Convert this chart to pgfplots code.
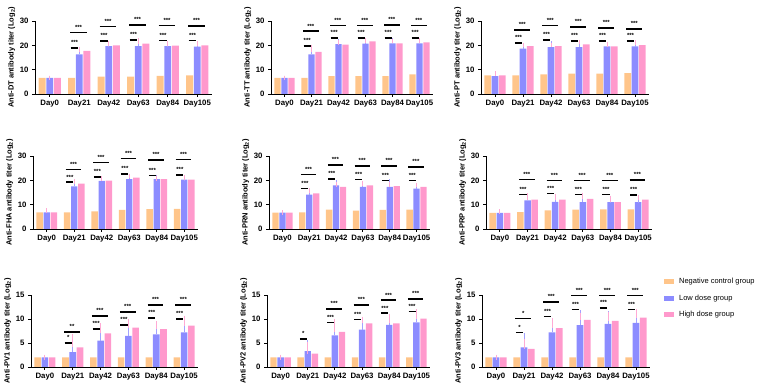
\documentclass[border=0pt]{standalone}
\usepackage{fontspec}
\setmainfont{Liberation Sans}
\usepackage{pgfplots}
\pgfplotsset{compat=1.18}
\usepackage{pgfplotstable}

\definecolor{cneg}{HTML}{FFC58A}
\definecolor{clow}{HTML}{8C8CFF}
\definecolor{chigh}{HTML}{FF99CC}
\definecolor{eneg}{HTML}{FFCF9E}
\definecolor{elow}{HTML}{A2A2FF}
\definecolor{ehigh}{HTML}{FFAAD4}

\newcommand{\tickfont}{\bfseries\fontsize{7.8}{9}\selectfont}
\newcommand{\labfont}{\bfseries\fontsize{7.5}{8}\selectfont}
\newcommand{\starfont}{\bfseries\fontsize{6}{6}\selectfont}

% columns: day index, negative control, low dose, high dose (mean and upper SD)
\pgfplotstableread{
x n   ne  l    le  h    he
0 6.6 0.0 6.6  0.0 6.6  0.0
1 6.6 0.0 16.3 1.2 17.7 0.7
2 7.1 0.8 19.7 0.8 20.0 0.7
3 7.1 0.6 19.7 1.1 20.7 1.2
4 7.4 1.2 19.7 0.8 19.9 0.9
5 7.7 1.2 19.5 1.0 20.0 0.8
}\dataDT
\pgfplotstableread{
x n   ne  l    le  h    he
0 6.6 0.0 6.6  0.0 6.6  0.0
1 6.6 0.0 16.3 2.1 17.3 1.9
2 7.3 0.8 20.5 1.1 20.3 0.8
3 7.3 0.8 20.7 0.8 21.6 0.4
4 7.3 1.1 20.8 1.1 20.8 1.0
5 8.1 1.2 20.8 1.1 21.2 0.7
}\dataTT
\pgfplotstableread{
x n   ne  l    le  h    he
0 7.7 0.7 7.3  0.9 7.7  0.8
1 7.7 0.9 18.6 1.1 19.7 0.4
2 8.1 0.8 19.3 1.5 19.7 0.4
3 8.4 0.6 19.3 0.8 20.4 1.0
4 8.4 0.5 19.6 0.9 19.6 0.8
5 8.6 0.7 19.6 0.9 20.1 0.9
}\dataPT
\pgfplotstableread{
x n   ne  l    le  h    he
0 6.8 0.8 6.8  0.6 6.8  0.7
1 6.8 0.6 17.5 1.1 18.6 0.9
2 7.2 0.7 19.8 0.8 19.9 0.8
3 7.9 1.0 20.5 0.9 21.1 0.7
4 8.2 0.9 20.5 0.8 20.5 0.4
5 8.3 0.7 20.3 0.6 20.3 0.8
}\dataFHA
\pgfplotstableread{
x n   ne  l    le  h    he
0 6.7 0.0 6.7  0.0 6.7  0.0
1 6.8 0.6 14.1 1.6 14.6 1.1
2 8.0 1.0 17.9 1.2 17.3 1.1
3 7.6 1.0 17.3 1.5 17.9 0.9
4 7.9 0.8 17.3 2.1 17.6 0.7
5 8.0 0.7 16.6 1.4 17.3 0.8
}\dataPRN
\pgfplotstableread{
x n   ne  l    le  h    he
0 6.6 0.6 6.6  0.6 6.6  0.6
1 6.9 0.7 11.8 1.3 12.1 1.7
2 7.7 0.8 11.1 1.0 12.1 1.4
3 8.0 0.5 11.0 1.2 12.4 1.6
4 8.1 0.7 11.0 0.8 11.0 1.7
5 8.1 0.7 11.0 0.7 12.1 0.7
}\dataPRP
\pgfplotstableread{
x n   ne  l   le  h    he
0 2.0 0.0 2.0 0.0 2.0  0.0
1 2.0 0.0 3.1 1.3 4.1  2.3
2 2.0 0.0 5.5 1.4 7.0  1.7
3 2.0 0.0 6.5 1.6 8.2  1.4
4 2.0 0.0 6.8 1.9 7.9  1.1
5 2.0 0.0 7.2 1.4 8.6  1.6
}\dataPVa
\pgfplotstableread{
x n   ne  l   le  h    he
0 2.0 0.0 2.0 0.0 2.0  0.0
1 2.0 0.0 3.3 1.8 2.8  1.9
2 2.0 0.0 6.6 1.8 7.3  2.2
3 2.0 0.0 7.8 1.2 9.1  0.9
4 2.0 0.0 8.8 1.8 9.1  1.4
5 2.0 0.0 9.3 1.5 10.1 1.4
}\dataPVb
\pgfplotstableread{
x n   ne  l   le  h    he
0 2.0 0.0 2.0 0.0 2.0  0.0
1 2.0 0.0 4.1 2.4 3.8  1.6
2 2.0 0.0 7.2 2.5 8.1  1.7
3 2.0 0.0 8.7 2.7 9.8  1.0
4 2.0 0.0 9.0 2.1 9.6  1.3
5 2.0 0.0 9.2 1.7 10.3 1.3
}\dataPVc

\pgfplotsset{
  panel/.style={
    scale only axis, anchor=south west, clip=false,
    xmin=-0.5, xmax=5.5, ymin=0,
    axis lines=left, axis line style={-, line width=0.9pt, black},
    xtick={0,...,5}, xticklabels={Day0,Day21,Day42,Day63,Day84,Day105},
    tick align=outside, major tick length=3pt,
    tick style={line width=0.9pt, black},
    ticklabel style={font=\tickfont},
    /pgf/number format/assume math mode=true,
    ylabel style={font=\labfont, inner sep=1pt},
  },
  top/.style={ymax=30, ytick={0,10,20,30}},
  low/.style={ymax=15, ytick={0,5,10,15}},
  grp/.style n args={3}{
    ybar, bar width=0.235, bar shift=#1, fill=#2, draw=none,
    /pgfplots/error bars/y dir=plus,
    /pgfplots/error bars/y explicit,
    /pgfplots/error bars/error bar style={#3, line width=0.9pt},
    /pgfplots/error bars/error mark options={#3, line width=0.9pt, mark size=2.4pt},
  },
  sigline/.style={black, line width=1.6pt, forget plot},
}
\tikzset{star/.style={font=\starfont, inner sep=0pt, anchor=base, yshift=3.2pt}}

% three groups of bars for one table
\newcommand{\bars}[1]{%
  \addplot[grp={-0.26}{cneg}{eneg},
    legend image code/.code={\fill[cneg] (0pt,-2.5pt) rectangle (10pt,2.5pt);}]
    table[x=x, y=n, y error=ne]{#1};
  \addplot[grp={0}{clow}{elow},
    legend image code/.code={\fill[clow] (0pt,-2.5pt) rectangle (10pt,2.5pt);}]
    table[x=x, y=l, y error=le]{#1};
  \addplot[grp={0.26}{chigh}{ehigh},
    legend image code/.code={\fill[chigh] (0pt,-2.5pt) rectangle (10pt,2.5pt);}]
    table[x=x, y=h, y error=he]{#1};
}
% control vs low dose bracket
\newcommand{\sigS}[3]{%
  \pgfmathsetmacro\sa{#1-0.29}\pgfmathsetmacro\sb{#1-0.03}%
  \edef\tmp{\noexpand\addplot[sigline] coordinates {(\sa,#2) (\sb,#2)} node[pos=0.5, star] {#3};}%
  \tmp}
% control vs high dose bracket
\newcommand{\sigL}[3]{%
  \pgfmathsetmacro\sa{#1-0.31}\pgfmathsetmacro\sb{#1+0.26}%
  \edef\tmp{\noexpand\addplot[sigline] coordinates {(\sa,#2) (\sb,#2)} node[pos=0.5, star] {#3};}%
  \tmp}

\begin{document}
\begin{tikzpicture}[x=1pt, y=1pt]
\path[use as bounding box] (0,0) rectangle (757,390);

% ---- row 1 ----
\begin{axis}[panel, top, at={(35pt,296pt)}, width=177pt, height=73pt,
  ylabel={Anti-DT antibody titer (Log\textsubscript{2})}]
\bars{\dataDT}
\sigS{1}{19.0}{***}\sigS{2}{21.8}{***}\sigS{3}{22.3}{***}\sigS{4}{22.0}{***}\sigS{5}{22.0}{***}
\sigL{1}{25.2}{***}\sigL{2}{27.8}{***}\sigL{3}{28.4}{***}\sigL{4}{28.2}{***}\sigL{5}{27.9}{***}
\end{axis}

\begin{axis}[panel, top, at={(271pt,296pt)}, width=162pt, height=73pt,
  ylabel={Anti-TT antibody titer (Log\textsubscript{2})}]
\bars{\dataTT}
\sigS{1}{19.7}{***}\sigS{2}{23.0}{***}\sigS{3}{23.0}{***}\sigS{4}{23.0}{***}\sigS{5}{23.0}{***}
\sigL{1}{25.8}{***}\sigL{2}{28.2}{***}\sigL{3}{28.1}{***}\sigL{4}{28.4}{***}\sigL{5}{28.1}{***}
\end{axis}

\begin{axis}[panel, top, at={(481pt,296pt)}, width=168pt, height=73pt,
  ylabel={Anti-PT antibody titer (Log\textsubscript{2})}]
\bars{\dataPT}
\sigS{1}{21.0}{***}\sigS{2}{22.3}{***}\sigS{3}{21.8}{***}\sigS{4}{21.8}{***}\sigS{5}{21.8}{***}
\sigL{1}{26.3}{***}\sigL{2}{28.1}{***}\sigL{3}{27.5}{***}\sigL{4}{27.1}{***}\sigL{5}{26.7}{***}
\end{axis}

% ---- row 2 ----
\begin{axis}[panel, top, at={(33pt,161pt)}, width=165pt, height=73pt,
  ylabel={Anti-FHA antibody titer (Log\textsubscript{2})}]
\bars{\dataFHA}
\sigS{1}{19.2}{***}\sigS{2}{21.3}{***}\sigS{3}{22.6}{***}\sigS{4}{22.0}{***}\sigS{5}{22.2}{***}
\sigL{1}{24.4}{***}\sigL{2}{27.3}{***}\sigL{3}{28.9}{***}\sigL{4}{28.4}{***}\sigL{5}{28.6}{***}
\end{axis}

\begin{axis}[panel, top, at={(269pt,161pt)}, width=161pt, height=73pt,
  ylabel={Anti-PRN antibody titer (Log\textsubscript{2})}]
\bars{\dataPRN}
\sigS{1}{16.6}{***}\sigS{2}{20.6}{***}\sigS{3}{20.3}{***}\sigS{4}{19.9}{***}\sigS{5}{19.9}{***}
\sigL{1}{22.4}{***}\sigL{2}{26.3}{***}\sigL{3}{25.9}{***}\sigL{4}{25.9}{***}\sigL{5}{25.5}{***}
\end{axis}

\begin{axis}[panel, top, at={(486pt,161pt)}, width=166pt, height=73pt,
  ylabel={Anti-PRP antibody titer (Log\textsubscript{2})}]
\bars{\dataPRP}
\sigS{1}{14.2}{***}\sigS{2}{14.6}{***}\sigS{3}{14.2}{***}\sigS{4}{14.2}{***}\sigS{5}{13.9}{***}
\sigL{1}{20.4}{***}\sigL{2}{19.9}{***}\sigL{3}{19.9}{***}\sigL{4}{19.9}{***}\sigL{5}{20.1}{***}
\end{axis}

% ---- row 3 ----
\begin{axis}[panel, low, at={(31pt,23pt)}, width=167pt, height=72pt,
  ylabel={Anti-PV1 antibody titer (Log\textsubscript{2})}]
\bars{\dataPVa}
\sigS{1}{5.0}{*}\sigS{2}{7.9}{***}\sigS{3}{8.8}{***}\sigS{4}{10.2}{***}\sigS{5}{10.0}{***}
\sigL{1}{7.3}{**}\sigL{2}{10.6}{***}\sigL{3}{11.5}{***}\sigL{4}{12.9}{***}\sigL{5}{12.9}{***}
\end{axis}

\begin{axis}[panel, low, at={(267pt,23pt)}, width=163pt, height=72pt,
  ylabel={Anti-PV2 antibody titer (Log\textsubscript{2})}]
\bars{\dataPVb}
\sigS{1}{5.8}{*}\sigS{2}{9.3}{***}\sigS{3}{9.9}{***}\sigS{4}{11.2}{***}\sigS{5}{11.6}{***}
\sigL{2}{12.1}{***}\sigL{3}{12.9}{***}\sigL{4}{13.9}{***}\sigL{5}{14.2}{***}
\end{axis}

\begin{axis}[panel, low, at={(482pt,23pt)}, width=168pt, height=72pt,
  ylabel={Anti-PV3 antibody titer (Log\textsubscript{2})},
  legend cell align=left,
  legend style={draw=none, fill=none, inner sep=0pt,
    at={(axis description cs:1.083,1.26)}, anchor=north west,
    font=\fontsize{7.5}{8}\selectfont, row sep=5.5pt,
    /tikz/every odd column/.append style={column sep=3pt}}]
\bars{\dataPVc}
\sigS{1}{7.2}{*}\sigS{2}{10.5}{***}\sigS{3}{12.0}{***}\sigS{4}{12.3}{***}\sigS{5}{12.0}{***}
\sigL{1}{10.1}{*}\sigL{2}{13.6}{***}\sigL{3}{14.9}{***}\sigL{4}{14.9}{***}\sigL{5}{14.9}{***}
\legend{Negative control group, Low dose group, High dose group}
\end{axis}
\end{tikzpicture}
\end{document}
